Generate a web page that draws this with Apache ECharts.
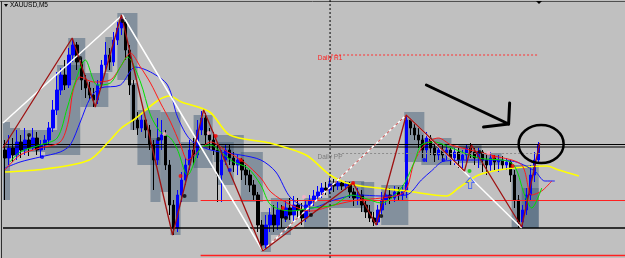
<!DOCTYPE html>
<html>
<head>
<meta charset="utf-8">
<script src="https://cdn.jsdelivr.net/npm/echarts@6/dist/echarts.min.js"></script>
<style>
  html, body { margin: 0; padding: 0; background: #c0c0c0; }
  #chart { width: 625px; height: 258px; }
</style>
</head>
<body>
<div id="chart"></div>
<script>
// XAUUSD M5
const slots = 155
const bars = Array.from({ length: slots }, (_, i) => String(i))

// [open, close, low, high]
const candles = [
  [1285.0,1284.2,1280.0,1286.0],[1284.2,1285.2,1283.5,1286.5],[1285.2,1284.5,1283.8,1286.2],[1284.5,1285.8,1284.0,1287.0],
  [1285.8,1285.0,1284.2,1286.5],[1285.0,1286.0,1284.5,1287.2],[1286.0,1285.2,1284.4,1286.5],[1285.2,1286.2,1285.0,1287.2],
  [1286.2,1285.0,1284.5,1286.8],[1285.0,1285.5,1284.2,1286.0],[1285.5,1286.0,1285.0,1286.5],[1286.0,1287.2,1285.5,1287.8],
  [1287.2,1289.0,1286.8,1290.0],[1289.0,1291.0,1288.5,1292.8],[1291.0,1292.5,1290.5,1293.2],[1292.5,1291.5,1291.0,1294.0],
  [1291.5,1294.5,1291.2,1295.2],[1294.5,1295.5,1293.8,1296.2],[1295.5,1293.8,1293.0,1295.8],[1293.8,1292.0,1291.0,1294.2],
  [1292.0,1291.2,1290.2,1292.5],[1291.2,1290.5,1290.0,1291.8],[1290.5,1290.0,1289.3,1291.2],[1290.0,1291.5,1289.6,1292.0],
  [1291.5,1293.5,1291.2,1294.0],[1293.5,1294.5,1292.8,1295.8],[1294.5,1293.8,1293.0,1295.2],[1293.8,1296.0,1293.4,1296.8],
  [1296.0,1297.2,1295.5,1297.8],[1297.2,1297.8,1296.5,1298.5],[1297.8,1295.0,1294.0,1298.2],[1295.0,1291.5,1290.5,1295.5],
  [1291.5,1288.0,1287.0,1292.0],[1288.0,1287.2,1286.5,1288.8],[1287.2,1288.0,1286.8,1288.5],[1288.0,1287.0,1286.2,1288.2],
  [1287.0,1285.5,1285.0,1287.5],[1285.5,1284.0,1281.0,1286.0],[1284.0,1286.0,1283.5,1288.2],[1286.0,1286.5,1285.0,1288.0],
  [1286.5,1283.5,1283.0,1287.0],[1283.5,1279.5,1278.5,1284.0],[1279.5,1277.2,1276.5,1280.0],[1277.2,1280.5,1276.8,1281.0],
  [1280.5,1282.0,1279.8,1282.8],[1282.0,1283.5,1281.5,1284.2],[1283.5,1285.0,1283.0,1286.0],[1285.0,1284.5,1283.5,1286.2],
  [1284.5,1287.0,1284.2,1288.0],[1287.0,1288.2,1286.5,1288.9],[1288.2,1286.5,1285.5,1288.7],[1286.5,1286.0,1285.0,1287.2],
  [1286.0,1285.0,1284.5,1286.8],[1285.0,1282.5,1279.8,1285.5],[1282.5,1284.0,1279.8,1285.0],[1284.0,1285.0,1283.5,1285.5],
  [1285.0,1284.2,1283.5,1285.5],[1284.2,1283.5,1282.8,1284.8],[1283.5,1284.0,1282.5,1284.5],[1284.0,1283.0,1282.0,1284.2],
  [1283.0,1282.5,1281.5,1283.5],[1282.5,1281.5,1280.8,1283.0],[1281.5,1280.5,1280.0,1282.0],[1280.5,1277.5,1276.8,1280.8],
  [1277.5,1275.5,1275.0,1278.0],[1275.5,1277.5,1275.2,1278.5],[1277.5,1278.5,1276.8,1279.2],[1278.5,1277.5,1276.8,1279.5],
  [1277.5,1279.0,1277.0,1279.8],[1279.0,1278.2,1277.2,1279.5],[1278.2,1279.2,1277.8,1280.0],[1279.2,1278.5,1278.0,1280.2],
  [1278.5,1279.5,1277.8,1280.4],[1279.5,1279.0,1278.2,1280.2],[1279.0,1278.2,1277.5,1279.7],[1278.2,1279.5,1277.8,1280.0],
  [1279.5,1280.0,1278.8,1280.5],[1280.0,1280.4,1279.4,1281.0],[1280.4,1280.8,1280.0,1281.4],[1280.8,1281.2,1280.2,1281.7],
  [1281.2,1281.0,1280.5,1281.8],[1281.0,1281.6,1280.6,1282.2],[1281.6,1281.4,1280.8,1282.1],[1281.4,1281.7,1281.0,1282.2],
  [1281.7,1281.4,1281.0,1282.0],[1281.4,1281.6,1281.0,1281.9],[1281.6,1280.8,1280.2,1281.8],[1280.8,1280.2,1279.4,1281.2],
  [1280.2,1280.5,1279.5,1281.2],[1280.5,1279.5,1278.8,1281.0],[1279.5,1278.8,1278.2,1280.0],[1278.8,1278.2,1277.8,1279.5],
  [1278.2,1277.8,1277.4,1278.8],[1277.8,1279.0,1277.5,1279.5],[1279.0,1280.0,1278.6,1280.8],[1280.0,1280.5,1279.5,1281.2],
  [1280.5,1280.2,1279.6,1281.2],[1280.2,1280.8,1279.8,1281.4],[1280.8,1280.5,1280.0,1281.3],[1280.5,1281.0,1280.0,1281.5],
  [1281.0,1288.0,1280.2,1288.5],[1288.0,1287.2,1286.5,1288.2],[1287.2,1286.5,1286.0,1287.8],[1286.5,1286.0,1285.2,1287.2],
  [1286.0,1285.0,1284.2,1286.5],[1285.0,1286.2,1283.8,1286.8],[1286.2,1285.2,1284.5,1286.5],[1285.2,1284.5,1283.8,1285.8],
  [1284.5,1285.0,1284.0,1285.5],[1285.0,1284.5,1283.8,1285.5],[1284.5,1285.0,1284.0,1285.5],[1285.0,1284.2,1283.5,1285.2],
  [1284.2,1284.8,1283.5,1285.2],[1284.8,1284.0,1283.2,1285.2],[1284.0,1284.5,1283.2,1285.0],[1284.5,1285.2,1283.8,1285.5],
  [1285.2,1284.8,1284.2,1285.7],[1284.8,1284.2,1283.5,1285.2],[1284.2,1284.8,1283.2,1285.2],[1284.8,1284.0,1282.8,1285.0],
  [1284.0,1283.5,1282.5,1284.5],[1283.5,1284.2,1282.8,1284.8],[1284.2,1283.8,1283.0,1284.5],[1283.8,1284.0,1282.8,1284.5],
  [1284.0,1283.5,1283.0,1284.4],[1283.5,1283.8,1283.0,1284.2],[1283.8,1282.5,1281.8,1284.0],[1282.5,1280.0,1279.2,1283.0],
  [1280.0,1277.8,1277.2,1280.5],[1277.8,1279.0,1277.3,1279.5],[1279.0,1280.5,1278.5,1281.2],[1280.5,1282.5,1280.0,1283.5],
  [1282.5,1284.0,1281.8,1284.8],[1284.0,1285.5,1283.8,1285.8]
]

// moving averages, [bar, price] at points
const maYellow = [[0,1282.8],[10,1283.1],[21,1284.0],[26,1285.9],[29,1287.2],[32,1288.0],[41,1290.4],[44,1289.8],[51,1288.8],
  [56,1286.5],[66,1285.7],[75,1284.5],[81,1282.5],[86,1281.6],[93,1281.2],[100,1280.9],[110,1280.4],[113,1281.2],
  [118,1282.5],[123,1283.0],[130,1283.3],[135,1283.4],[138,1283.0],[143,1282.4]]
const maBlue = [[0,1283.2],[3.75,1283.8],[8.75,1284.3],[13.75,1284.8],[16.25,1285.5],[18.75,1287.8],[21.25,1290.2],
  [23.75,1291.2],[28.75,1291.5],[32.5,1293.3],[36.25,1292.8],[40.5,1291.5],[43,1288.3],[46.25,1286.0],[51.25,1285.0],
  [58.75,1284.5],[63.75,1284.0],[67.5,1282.8],[71.25,1280.2],[76.25,1279.2],[82,1280.0],[88,1280.5],[93.75,1280.4],
  [100,1280.5],[103.75,1282.0],[106.25,1282.9],[109.5,1283.9],[118,1284.0],[126.25,1283.9],[132,1282.9],[134.5,1281.9],[137,1281.9]]
const maRed = [[0,1283.0],[3.75,1284.5],[8.75,1285.2],[13.75,1285.8],[15.75,1287.8],[17,1291.0],[18.75,1292.3],[22,1291.8],
  [26.25,1292.0],[28.75,1293.3],[31.25,1294.7],[33.75,1293.3],[36.25,1291.7],[38.75,1289.7],[41.25,1287.8],[43.75,1285.5],
  [45.5,1284.0],[48,1284.8],[51.25,1285.8],[55.5,1284.8],[59.5,1283.8],[63.75,1282.2],[66.25,1280.8],[71.25,1279.5],
  [76.25,1278.9],[82,1279.5],[88,1280.0],[93.75,1280.2],[99.5,1280.8],[102,1283.8],[104.5,1285.5],[108,1286.2],
  [111.25,1285.5],[122,1284.4],[128.75,1283.5],[131.25,1280.5],[133.75,1280.9],[136.25,1281.9]]
const maGreen = [[1.25,1283.8],[3.75,1284.8],[8.75,1285.5],[13,1286.2],[15.5,1289.2],[17.5,1291.8],[20,1294.0],[23,1291.5],
  [26.25,1291.7],[28.75,1293.3],[30.5,1294.3],[33.75,1291.8],[36.25,1288.5],[38.75,1286.8],[41.25,1286.2],[43,1285.0],
  [45.5,1282.5],[48.75,1285.2],[51.25,1285.5],[53.75,1284.8],[57,1283.8],[60.5,1283.2],[63.75,1281.5],[66.25,1279.5],
  [71.25,1278.9],[76.25,1279.2],[82,1279.5],[86.25,1280.5],[89.5,1280.2],[93.75,1279.7],[98.75,1281.2],[102,1283.8],
  [103.75,1285.5],[107,1285.8],[111.25,1285.2],[118,1284.2],[126.25,1283.7],[129.5,1280.5],[131.25,1279.2],[133.75,1281.2]]

// zigzags
const zigWhite = [[-0.5,1287.7],[29.25,1298.5],[64.25,1274.9]]
const zigWhiteDash = [[64.25,1274.9],[100,1288.5]]
const zigWhite2 = [[100,1288.5],[128.75,1277.2]]
const zigRed = [[-0.5,1285.2],[16.75,1296.2],[22.5,1289.3],[29,1298.5],[41.75,1276.5],[49.5,1289.0],[64.25,1274.9],
  [86.75,1281.7],[92.5,1277.5],[100,1288.5],[114.5,1282.9],[116.25,1285.5],[128.75,1277.3],[133.25,1285.7]]

// shaded boxes [barFrom, priceTop, barTo, priceBottom]
const boxes = [
  [-0.5,1287.8,1.25,1280.0],[1.25,1287.2,3.75,1285.0],[3.75,1287.0,10,1284.8],[10,1287.0,18.75,1284.5],
  [13,1293.5,18.75,1287.0],[15.75,1296.2,20,1292.0],[18.75,1292.7,25.75,1289.3],[25,1296.3,26.75,1292.8],
  [28,1298.7,33,1292.0],[31.25,1291.7,33,1287.0],[33,1289.0,38.75,1283.5],[36.25,1286.2,38.75,1279.8],
  [38.75,1288.8,43.75,1280.8],[41.25,1280.8,43.75,1276.5],[43.75,1285.8,48,1279.8],[47,1288.5,51.75,1283.2],
  [52,1286.5,59.5,1283.8],[53,1285.8,57,1281.5],[58.75,1284.8,64.25,1279.8],[63.75,1278.8,66.25,1274.8],
  [66.25,1280.2,71.25,1276.5],[74.5,1280.2,80.5,1277.2],[80.5,1281.9,89.5,1279.2],[88.75,1281.8,92,1278.8],
  [93.75,1281.5,100.5,1277.5],[99.5,1288.8,104.5,1283.8],[103.75,1286.2,111.25,1283.5],[113,1285.5,118.75,1283.7],
  [118,1284.7,123.75,1283.5],[126.25,1283.5,133,1277.2],[128.75,1281.2,133,1277.2]
]

// fractal dots
const dotsBlack = [[6,1286.5],[18.75,1294.2],[29.25,1297.9],[38.25,1286.1],[44.75,1280.4],[70,1278.2],[76.25,1278.5],[93.75,1278.4],[118.25,1284.8]]
const dotsRed = [[43.75,1282.4],[52.5,1286.4],[58.75,1284.0],[69.25,1279.2],[86.75,1281.7],[121.75,1284.3],[126.5,1283.4]]
const dotsPink = [[39.75,1286.6],[50.75,1286.7],[74.5,1280.3],[120.5,1284.7]]
const dotsBlue = [[9.25,1284.3],[56,1283.0],[104.5,1284.0],[109.25,1284.0]]
const dotsGreen = [[115.75,1282.9]]
const upArrow = [[115.9,1281.7]]

// levels
const levelR1 = 1294.5
const levelPP = 1284.65
const blackLevels = [1285.55, 1285.3, 1277.2]
const redLevels = [1279.95, 1274.45]
const vLineBar = 81
const labels = [[81, 1294.2, 'Daily R1', '#ff2020'], [81, 1284.3, 'Daily PP', '#7c7c7c']]

// drawn annotation: arrow and ellipse
const arrowShaft = [[105,1291.5],[125.5,1287.6]]
const arrowHead = [[125.75,1289.7],[125.5,1287.6],[119.25,1287.3]]
const circleAt = [[133.6,1285.6]]

function line(data, color, width, extra) {
  return Object.assign({
    type: 'line', xAxisIndex: 1, data: data, symbol: 'none', silent: true,
    lineStyle: { color: color, width: width }, z: 5
  }, extra || {})
}
function dots(data, color) {
  return { type: 'scatter', xAxisIndex: 1, data: data, symbolSize: 4, silent: true, itemStyle: { color: color }, z: 7 }
}

const series = [
  {
    type: 'custom', xAxisIndex: 1, data: boxes, silent: true, z: 1,
    encode: { x: [0, 2], y: [1, 3] },
    renderItem(params, api) {
      const a = api.coord([api.value(0), api.value(1)])
      const b = api.coord([api.value(2), api.value(3)])
      return { type: 'rect', shape: { x: a[0], y: a[1], width: b[0] - a[0], height: b[1] - a[1] },
        style: { fill: 'rgba(70,95,122,0.5)' } }
    }
  },
  {
    type: 'candlestick', xAxisIndex: 0, data: candles, barWidth: 3, silent: true, z: 3,
    itemStyle: { color: '#0000ff', color0: '#000000', borderColor: '#0000ff', borderColor0: '#000000', borderWidth: 1 }
  },
  line(maYellow, '#ffff00', 1.6, { smooth: 0.3 }),
  line(maBlue, '#1010ff', 1, { smooth: 0.3 }),
  line(maRed, '#ff1a1a', 1, { smooth: 0.3 }),
  line(maGreen, '#00e000', 1, { smooth: 0.3 }),
  line(zigWhite, '#ffffff', 1.5, { z: 6 }),
  line(zigWhiteDash, '#e05050', 1, { z: 6 }),
  line(zigWhiteDash, '#ffffff', 1.5, { z: 6, lineStyle: { color: '#ffffff', width: 1.5, type: [3, 3] } }),
  line(zigWhite2, '#ffffff', 1.5, { z: 6 }),
  line(zigRed, '#9e1212', 1.3, { z: 6 }),
  line([[81.25, levelR1], [132.75, levelR1]], '#ff3030', 1, { lineStyle: { color: '#ff3030', width: 1, type: [2, 2] } }),
  line([[83, levelPP], [133.75, levelPP]], '#8c8c8c', 1, { lineStyle: { color: '#8c8c8c', width: 1, type: [2, 2] } }),
  line([[vLineBar, 1274.2], [vLineBar, 1300]], '#000', 1, { lineStyle: { color: '#000', width: 1, type: [2, 2] } }),
  dots(dotsBlack, '#000000'),
  dots(dotsRed, '#ff0000'),
  dots(dotsPink, '#ffb0c8'),
  dots(dotsBlue, '#0000ff'),
  dots(dotsGreen, '#00cc00'),
  {
    type: 'scatter', xAxisIndex: 1, data: upArrow, silent: true, z: 7,
    symbol: 'path://M5,0 L10,5 L7,5 L7,11 L3,11 L3,5 L0,5 Z', symbolSize: [8, 11],
    itemStyle: { color: 'rgba(0,0,0,0)', borderColor: '#3050ff', borderWidth: 1 }
  },
  line(arrowShaft, '#000', 3, { z: 8, lineStyle: { color: '#000', width: 3, cap: 'round' } }),
  line(arrowHead, '#000', 3, { z: 8, lineStyle: { color: '#000', width: 3, cap: 'round', join: 'round' } }),
  {
    type: 'custom', xAxisIndex: 1, data: circleAt, silent: true, z: 8,
    renderItem(params, api) {
      const c = api.coord([api.value(0), api.value(1)])
      return { type: 'ellipse', shape: { cx: c[0], cy: c[1], rx: 22.5, ry: 19 },
        style: { fill: 'none', stroke: '#000', lineWidth: 2.5 } }
    }
  },
  {
    type: 'custom', xAxisIndex: 1, data: labels, silent: true, z: 7,
    renderItem(params, api) {
      const c = api.coord([api.value(0), api.value(1)])
      const item = labels[params.dataIndex]
      return { type: 'text', style: { text: item[2], x: c[0], y: c[1], fill: item[3],
        font: '6.5px "Liberation Sans"', align: 'center', verticalAlign: 'middle' } }
    }
  }
]
blackLevels.forEach(p => series.push(line([[-0.5, p], [slots - 0.5, p]], '#000', p < 1280 ? 1.4 : 1, { z: 4 })))
redLevels.forEach(p => series.push(line([[48.75, p], [slots - 0.5, p]], '#ff2020', p < 1275 ? 1.5 : 1, { z: 4 })))

const chart = echarts.init(document.getElementById('chart'))
chart.setOption({
  animation: false,
  backgroundColor: '#c0c0c0',
  grid: { left: 3, right: 0, top: 0, bottom: 0 },
  xAxis: [
    { type: 'category', data: bars, show: false },
    { type: 'value', min: -0.5, max: slots - 0.5, show: false }
  ],
  yAxis: { type: 'value', min: 1274.2, max: 1300, show: false, scale: true },
  graphic: [
    { type: 'line', shape: { x1: 0, y1: 1.5, x2: 625, y2: 1.5 }, style: { stroke: '#505050', lineWidth: 1 } },
    { type: 'line', shape: { x1: 1.5, y1: 1, x2: 1.5, y2: 258 }, style: { stroke: '#303030', lineWidth: 1 } },
    { type: 'polygon', shape: { points: [[536, 1], [542, 1], [539, 4]] }, style: { fill: '#000' } },
    { type: 'polygon', shape: { points: [[4, 4], [8, 4], [6, 7]] }, style: { fill: '#000' } },
    { type: 'text', left: 10, top: 2, style: { text: 'XAUUSD,M5', font: '6.5px "Liberation Sans"', fill: '#000' } }
  ],
  series: series
})
</script>
</body>
</html>
